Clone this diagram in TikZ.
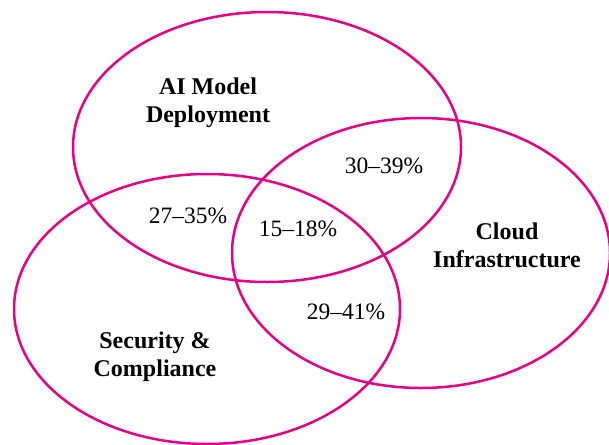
\documentclass[tikz,border=0pt]{standalone}
\usepackage{fontspec}
\setmainfont{Liberation Serif}
\usepackage{tikz}
\usetikzlibrary{positioning}
\definecolor{vennpink}{RGB}{234,0,136}

\begin{document}
\begin{tikzpicture}[
    x=1pt, y=-1pt,              % pixel-like coordinates, top-left origin
    ]
% ------------------------------------------------- 
\tikzset{
  venn/.style={draw=vennpink, line width=2.5pt},
  lbl/.style={font=\bfseries\fontsize{24}{28}\selectfont, align=center, inner sep=0pt},
  pct/.style={font=\fontsize{23.5}{28}\selectfont, inner sep=0pt}
}
\useasboundingbox (0,0) rectangle (609,444);
\draw [venn] (267,147) ellipse [x radius=194pt, y radius=135pt];
\draw [venn] (421,253) ellipse [x radius=189pt, y radius=135pt];
\draw [venn] (207,309) ellipse [x radius=193pt, y radius=135pt];
\node [lbl] (ai) at (208,103) {AI Model\\Deployment};
\node [lbl] (cloud) at (507,245) {Cloud\\Infrastructure};
\node [lbl] (sec) at (155,357) {Security \&\\Compliance};
\node [pct] (aicloud) at (384,166) {30--39\%};
\node [pct] (aisec) at (188,216) {27--35\%};
\node [pct] (all) at (298,229) {15--18\%};
\node [pct] (cloudsec) at (346,312) {29--41\%};
\end{tikzpicture}
\end{document}
